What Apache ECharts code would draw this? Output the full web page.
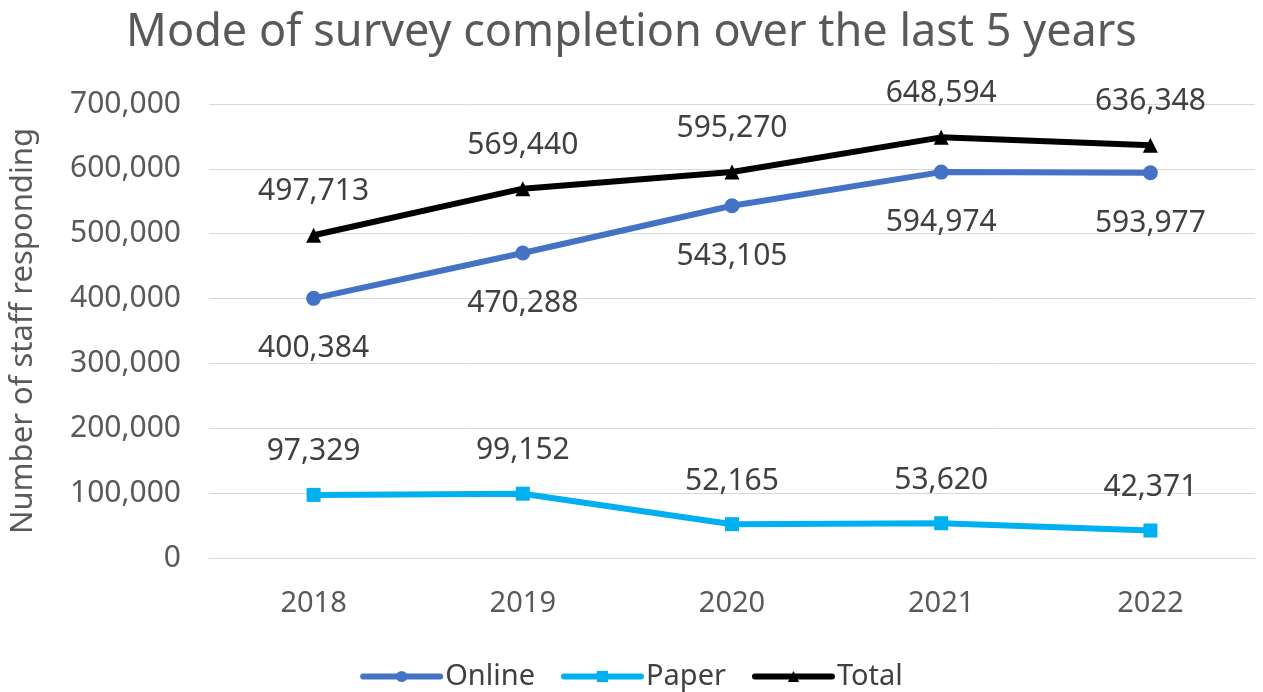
<!DOCTYPE html>
<html><head><meta charset="utf-8">
<script src="https://cdn.jsdelivr.net/npm/echarts@6/dist/echarts.min.js"></script>
<style>html,body{margin:0;padding:0;background:#fff}#c{width:1263px;height:692px}</style>
</head><body><div id="c"></div>
<script>
const categories = ['2018','2019','2020','2021','2022'];
const online = [400384, 470288, 543105, 594974, 593977];
const paper = [97329, 99152, 52165, 53620, 42371];
const total = [497713, 569440, 595270, 648594, 636348];
const yTicks = [0, 100000, 200000, 300000, 400000, 500000, 600000, 700000];

const fmt = v => v.toLocaleString('en-US');
const font = '"Noto Sans", "Open Sans", sans-serif';
const lbl = (pos, d) => ({show:true, position:pos, distance:d, color:'#404040', fontSize:30, fontFamily:font, formatter:p=>fmt(p.value)});

const chart = echarts.init(document.getElementById('c'));
chart.setOption({
  animation:false,
  title:{text:'Mode of survey completion over the last 5 years', left:'center', top:6,
    textStyle:{color:'#595959', fontSize:45, fontWeight:'normal', fontFamily:font}},
  grid:{left:205, right:8, top:104, bottom:134},
  legend:{bottom:-4, left:'center', itemWidth:77, itemHeight:14, itemGap:26,
    lineStyle:{width:6, cap:'round'},
    textStyle:{color:'#404040', fontSize:29, fontFamily:font},
    data:['Online','Paper','Total']},
  xAxis:{type:'category', data:categories, boundaryGap:true,
    axisLine:{lineStyle:{color:'#d9d9d9', width:1}}, axisTick:{show:false},
    axisLabel:{color:'#595959', fontSize:29, fontFamily:font, margin:31}},
  yAxis:{type:'value', min:yTicks[0], max:yTicks[yTicks.length-1], interval:100000,
    name:'Number of staff responding', nameLocation:'middle', nameRotate:90, nameGap:170,
    nameTextStyle:{color:'#595959', fontSize:31, fontFamily:font},
    axisLine:{show:false}, axisTick:{show:false},
    splitLine:{lineStyle:{color:'#d9d9d9', width:1}},
    axisLabel:{color:'#595959', fontSize:30, fontFamily:font, margin:28, formatter:v=>fmt(v)}},
  series:[
    {name:'Online', type:'line', data:online, symbol:'circle', symbolSize:15,
     lineStyle:{color:'#4472C4', width:6}, itemStyle:{color:'#4472C4'}, label:lbl('bottom', 28)},
    {name:'Paper', type:'line', data:paper, symbol:'rect', symbolSize:14,
     lineStyle:{color:'#00B0F0', width:6}, itemStyle:{color:'#00B0F0'}, label:lbl('top', 21)},
    {name:'Total', type:'line', data:total, symbol:'triangle', symbolSize:15,
     lineStyle:{color:'#000000', width:6}, itemStyle:{color:'#000000'}, label:lbl('top', 21)}
  ]
});
</script></body></html>
